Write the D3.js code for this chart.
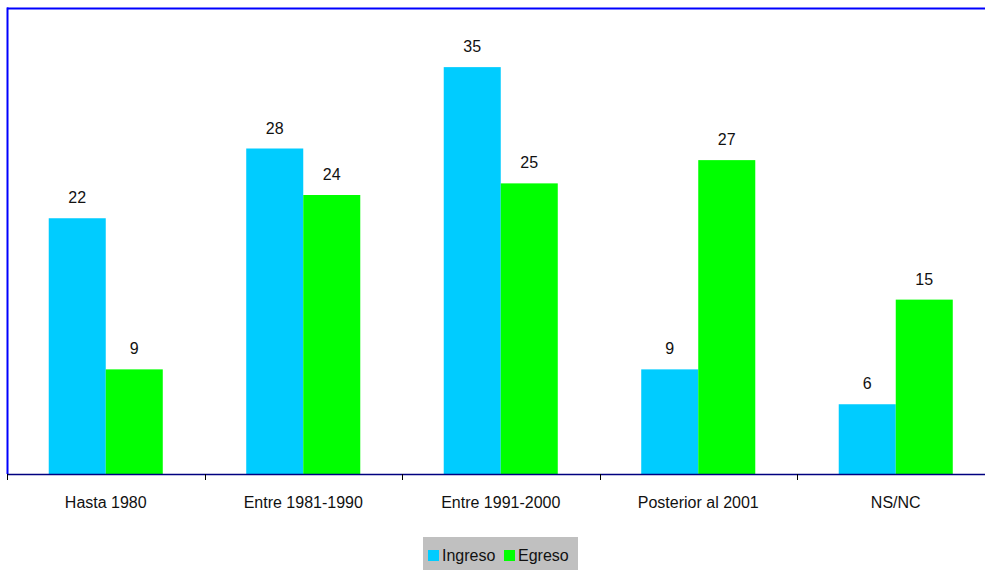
<!DOCTYPE html>
<html><head><meta charset="utf-8">
<script src="https://cdn.jsdelivr.net/npm/d3@7"></script>
<style>body{margin:0;background:#fff;}svg{display:block;}text{font-family:Arial,"Liberation Sans",sans-serif;fill:#111;}</style>
</head><body>
<svg id="c" width="985" height="570"></svg>
<script>
const categories = ["Hasta 1980","Entre 1981-1990","Entre 1991-2000","Posterior al 2001","NS/NC"];
const seriesNames = ["Ingreso","Egreso"];
const ingreso = [22,28,35,9,6];
const egreso = [9,24,25,27,15];
const colors = ["#00CCFF","#00FF00"];

(function(){
const svg = d3.select("#c");
const pL = 7, pR = 994.5, pT = 9, pB = 474;
const x0 = d3.scaleBand().domain(categories).range([pL,pR]).paddingInner(0).paddingOuter(0);
const x1 = d3.scaleBand().domain(seriesNames).range([0,x0.bandwidth()]).paddingInner(0).paddingOuter(0.732);
const y = d3.scaleLinear().domain([0,40]).range([pB,pT]);

const data = categories.map((c,i)=>({cat:c, vals:[ingreso[i],egreso[i]]}));

const g = svg.append("g");
const grp = g.selectAll("g.cat").data(data).join("g").attr("class","cat").attr("transform",d=>`translate(${x0(d.cat)},0)`);
grp.selectAll("rect").data(d=>d.vals.map((v,j)=>({name:seriesNames[j],v,j}))).join("rect")
  .attr("x",d=>x1(d.name)).attr("width",x1.bandwidth())
  .attr("y",d=>y(d.v)).attr("height",d=>pB-y(d.v))
  .attr("fill",d=>colors[d.j]);
grp.selectAll("text.val").data(d=>d.vals.map((v,j)=>({name:seriesNames[j],v,j}))).join("text")
  .attr("class","val").attr("x",d=>x1(d.name)+x1.bandwidth()/2).attr("y",d=>y(d.v)-15)
  .attr("text-anchor","middle").style("font-size","16px").text(d=>d.v);

// frame: top and left blue
svg.append("line").attr("x1",pL).attr("x2",985).attr("y1",pT-0.5).attr("y2",pT-0.5).attr("stroke","#0000FF").attr("stroke-width",2);
svg.append("line").attr("x1",pL+0.5).attr("x2",pL+0.5).attr("y1",pT-1.5).attr("y2",pB).attr("stroke","#0000FF").attr("stroke-width",2);

// bottom axis
const ax = svg.append("g").attr("transform",`translate(0,${pB})`)
  .call(d3.axisBottom(x0).tickSize(0).tickFormat(d=>d));
ax.select(".domain").remove();
ax.selectAll("text").attr("dy",null).attr("y",34).style("font-size","16px").style("font-family","Arial,'Liberation Sans',sans-serif").attr("fill","#111");
svg.append("line").attr("x1",pL).attr("x2",985).attr("y1",pB+0.5).attr("y2",pB+0.5).attr("stroke","#000080").attr("stroke-width",1.5);
svg.selectAll("line.tk").data(categories).join("line").attr("class","tk")
  .attr("x1",d=>Math.round(x0(d))+0.5).attr("x2",d=>Math.round(x0(d))+0.5)
  .attr("y1",pB).attr("y2",pB+6).attr("stroke","#000").attr("stroke-width",1);

// legend
const lg = svg.append("g");
lg.append("rect").attr("x",423).attr("y",537).attr("width",155).attr("height",33).attr("fill","#C0C0C0");
const items = [{n:"Ingreso",sx:428,tx:442},{n:"Egreso",sx:504,tx:518}];
items.forEach((it,i)=>{
  lg.append("rect").attr("x",it.sx).attr("y",550).attr("width",11).attr("height",11).attr("fill",colors[i]);
  lg.append("text").attr("x",it.tx).attr("y",561).style("font-size","16px").text(it.n);
});
})();
</script>
</body></html>
